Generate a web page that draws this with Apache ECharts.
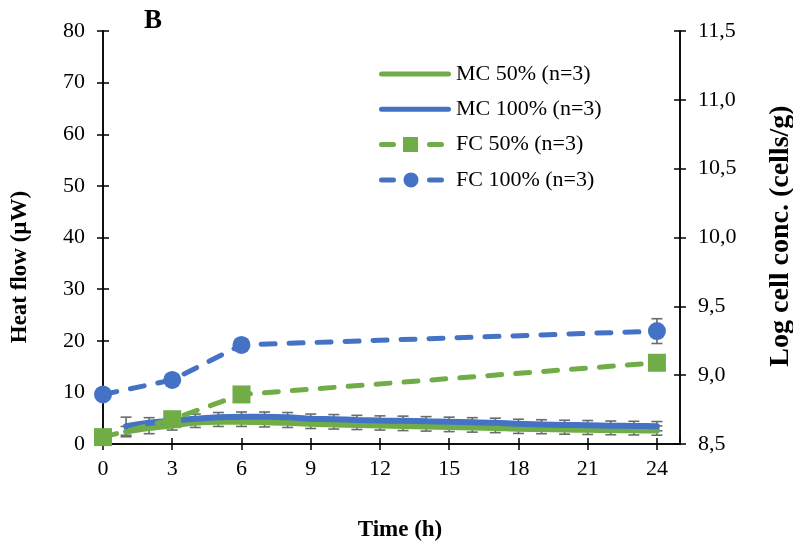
<!DOCTYPE html>
<html>
<head>
<meta charset="utf-8">
<script src="https://cdn.jsdelivr.net/npm/echarts@6/dist/echarts.min.js"></script>
<style>html,body{margin:0;padding:0;background:#fff}#c{width:793px;height:545px}</style>
</head>
<body>
<div id="c"></div>
<script>
// ---- data ----
const mcHours = [1,2,3,4,5,6,7,8,9,10,11,12,13,14,15,16,17,18,19,20,21,22,23,24];
const mc50 = [2.4,3.1,3.6,4.1,4.3,4.3,4.2,4.1,3.9,3.8,3.7,3.6,3.5,3.4,3.3,3.2,3.1,2.95,2.9,2.8,2.75,2.7,2.65,2.6];
const mc50Err = [1.0,1.1,0.9,0.9,0.9,0.9,0.9,0.9,0.9,0.9,0.9,0.9,0.9,0.9,0.9,0.9,0.9,0.9,0.9,0.9,0.9,0.9,0.9,0.9];
const mc100 = [3.45,4.1,4.55,4.9,5.2,5.3,5.3,5.2,4.9,4.8,4.65,4.55,4.5,4.4,4.3,4.2,4.1,3.9,3.8,3.7,3.65,3.55,3.5,3.45];
const mc100Err = [1.75,1.0,1.0,0.9,0.9,0.9,0.9,0.9,0.9,0.9,0.9,0.9,0.9,0.9,0.9,0.9,0.9,0.9,0.9,0.9,0.9,0.9,0.9,0.9];
const fcHours = [0,3,6,24];
const fc50 = [8.55,8.68,8.86,9.09];
const fc50Err = [0.03,0.03,0.03,0.04];
const fc100 = [8.86,8.965,9.22,9.32];
const fc100Err = [0.03,0.03,0.03,0.09];
const leftTicks = {min:0, max:80, interval:10};
const rightTicks = {min:8.5, max:11.5, interval:0.5};
const xTicks = {min:0, max:25, interval:3};
const names = ['MC 50% (n=3)','MC 100% (n=3)','FC 50% (n=3)','FC 100% (n=3)'];

const GREEN = '#70AD47', BLUE = '#4472C4', ERR = '#6b6b6b';
const FONT = 'Liberation Serif';

function pairs(xs, ys){ return xs.map((x,i)=>[x, ys[i]]); }
function errData(xs, ys, es){ return xs.map((x,i)=>[x, ys[i], es[i]]); }

function errSeries(data, xIdx, yIdx){
  return {
    type:'custom', coordinateSystem:'cartesian2d', xAxisIndex:xIdx, yAxisIndex:yIdx,
    z:1, silent:true, data:data,
    renderItem:function(params, api){
      const x = api.value(0), y = api.value(1), e = api.value(2);
      const top = api.coord([x, y+e]);
      const bot = api.coord([x, y-e]);
      const hw = 5.5;
      const st = {stroke:ERR, lineWidth:1.6};
      return {type:'group', children:[
        {type:'line', shape:{x1:top[0],y1:top[1],x2:bot[0],y2:bot[1]}, style:st},
        {type:'line', shape:{x1:top[0]-hw,y1:top[1],x2:top[0]+hw,y2:top[1]}, style:st},
        {type:'line', shape:{x1:bot[0]-hw,y1:bot[1],x2:bot[0]+hw,y2:bot[1]}, style:st}
      ]};
    }
  };
}

const axisLine = {show:true, onZero:false, lineStyle:{color:'#000', width:1.5}};
const tickOut = {show:true, length:6, inside:false, lineStyle:{color:'#000', width:1.5}};
const tickIn = {show:true, length:6, inside:true, lineStyle:{color:'#000', width:1.5}};
const lbl = {color:'#000', fontFamily:FONT, fontSize:22};

// legend icons (rounded dash + marker + dash)
const dashL = 'M2.5,5.5H14.5A2.5,2.5 0 0 1 14.5,10.5H2.5A2.5,2.5 0 0 1 2.5,5.5Z';
const dashR = 'M50.5,5.5H62.5A2.5,2.5 0 0 1 62.5,10.5H50.5A2.5,2.5 0 0 1 50.5,5.5Z';
const iconSquare = 'path://' + dashL + 'M24,0.5H39V15.5H24Z' + dashR + 'M71.9,7.9H72V8.1H71.9Z M0,7.9H0.1V8.1H0Z';
const iconCircle = 'path://' + dashL + 'M32,0.5A7.5,7.5 0 1 1 32,15.5A7.5,7.5 0 1 1 32,0.5Z' + dashR + 'M71.9,7.9H72V8.1H71.9Z M0,7.9H0.1V8.1H0Z';
const iconLine = 'path://M2.5,0H69.5A2.5,2.5 0 0 1 69.5,5H2.5A2.5,2.5 0 0 1 2.5,0Z';

const chart = echarts.init(document.getElementById('c'), null, {renderer:'canvas'});
chart.setOption({
  animation:false,
  backgroundColor:'#fff',
  grid:{left:103, right:113, top:31, bottom:101, containLabel:false},
  xAxis:[
    {type:'value', min:xTicks.min, max:xTicks.max, interval:xTicks.interval, position:'bottom',
     axisLine:axisLine, axisTick:tickOut, splitLine:{show:false},
     axisLabel:Object.assign({margin:14, showMaxLabel:false, formatter:v=> (v%3===0? String(v):'')}, lbl)},
    {type:'value', min:xTicks.min, max:xTicks.max, interval:xTicks.interval, position:'bottom',
     axisLine:axisLine, axisTick:tickIn, splitLine:{show:false}, axisLabel:{show:false}}
  ],
  yAxis:[
    {type:'value', min:leftTicks.min, max:leftTicks.max, interval:leftTicks.interval, position:'left',
     axisLine:axisLine, axisTick:tickOut, splitLine:{show:false},
     axisLabel:Object.assign({margin:18}, lbl)},
    {type:'value', min:rightTicks.min, max:rightTicks.max, interval:rightTicks.interval, position:'right',
     axisLine:axisLine, axisTick:tickOut, splitLine:{show:false},
     axisLabel:Object.assign({margin:18, formatter:v=>v.toFixed(1).replace('.',',')}, lbl)},
    {type:'value', min:leftTicks.min, max:leftTicks.max, interval:leftTicks.interval, position:'left',
     axisLine:axisLine, axisTick:tickIn, splitLine:{show:false}, axisLabel:{show:false}},
    {type:'value', min:rightTicks.min, max:rightTicks.max, interval:rightTicks.interval, position:'right',
     axisLine:axisLine, axisTick:tickIn, splitLine:{show:false}, axisLabel:{show:false}}
  ],
  legend:{
    left:374, top:58, orient:'vertical', itemWidth:72, itemHeight:16, itemGap:13.3,
    textStyle:{color:'#000', fontFamily:FONT, fontSize:22},
    data:[
      {name:names[0], icon:iconLine, itemStyle:{color:GREEN}},
      {name:names[1], icon:iconLine, itemStyle:{color:BLUE}},
      {name:names[2], icon:iconSquare, itemStyle:{color:GREEN}},
      {name:names[3], icon:iconCircle, itemStyle:{color:BLUE}}
    ]
  },
  series:[
    errSeries(errData(mcHours, mc50, mc50Err), 1, 2),
    errSeries(errData(mcHours, mc100, mc100Err), 1, 2),
    errSeries(errData(fcHours, fc50, fc50Err), 1, 3),
    errSeries(errData(fcHours, fc100, fc100Err), 1, 3),
    {name:names[0], type:'line', xAxisIndex:0, yAxisIndex:0, data:pairs(mcHours, mc50), smooth:0.3,
     showSymbol:false, symbol:'none', z:3, color:GREEN, lineStyle:{color:GREEN, width:6, cap:'round'}},
    {name:names[1], type:'line', xAxisIndex:0, yAxisIndex:0, data:pairs(mcHours, mc100), smooth:0.3,
     showSymbol:false, symbol:'none', z:3, color:BLUE, lineStyle:{color:BLUE, width:6, cap:'round'}},
    {name:names[2], type:'line', xAxisIndex:0, yAxisIndex:1, data:pairs(fcHours, fc50),
     symbol:'rect', symbolSize:18, z:4, color:GREEN, itemStyle:{color:GREEN},
     lineStyle:{color:GREEN, width:5, type:[14,14], cap:'round'}},
    {name:names[3], type:'line', xAxisIndex:0, yAxisIndex:1, data:pairs(fcHours, fc100),
     symbol:'circle', symbolSize:18, z:4, color:BLUE, itemStyle:{color:BLUE},
     lineStyle:{color:BLUE, width:5, type:[14,14], cap:'round'}}
  ],
  graphic:[
    {type:'text', left:144, top:8, style:{text:'B', font:'bold 27px "Liberation Serif"', fill:'#000'}},
    {type:'text', x:20, y:267, rotation:Math.PI/2, style:{text:'Heat flow (µW)', font:'bold 23px "Liberation Serif"', fill:'#000', align:'center', verticalAlign:'middle'}},
    {type:'text', x:781, y:236, rotation:Math.PI/2, style:{text:'Log cell conc. (cells/g)', font:'bold 28px "Liberation Serif"', fill:'#000', align:'center', verticalAlign:'middle'}},
    {type:'text', x:400, y:530, style:{text:'Time (h)', font:'bold 23px "Liberation Serif"', fill:'#000', align:'center', verticalAlign:'middle'}}
  ]
});
</script>
</body>
</html>
